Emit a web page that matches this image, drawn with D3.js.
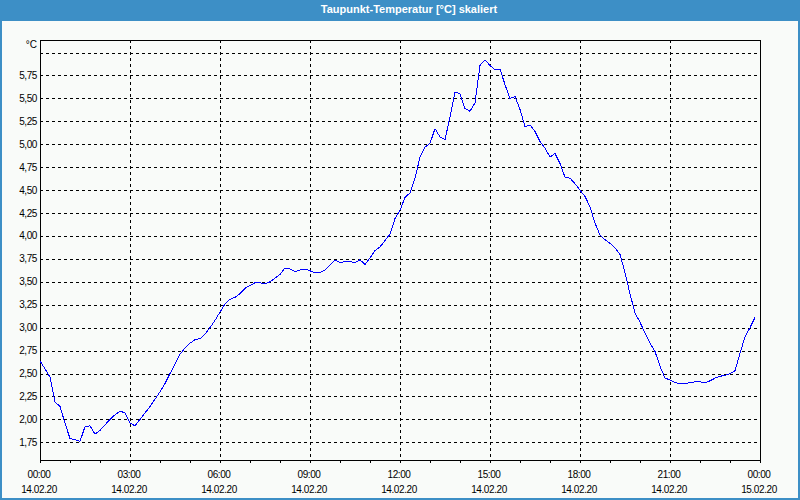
<!DOCTYPE html>
<html><head><meta charset="utf-8">
<script src="https://cdn.jsdelivr.net/npm/d3@7"></script>
<style>
html,body{margin:0;padding:0;background:#f9fbf9;}
svg{display:block;}
text{font-family:"Liberation Sans",Arial,sans-serif;}
</style></head>
<body>
<svg id="chart" width="800" height="500"></svg>
<script>
const title = "Taupunkt-Temperatur [°C] skaliert";
const unitLabel = "°C";
const times = ["00:00","00:10","00:20","00:30","00:40","00:50","01:00","01:10","01:20","01:30","01:40","01:50",
"02:00","02:10","02:20","02:30","02:40","02:50","03:00","03:10","03:20","03:30","03:40","03:50",
"04:00","04:10","04:20","04:30","04:40","04:50","05:00","05:10","05:20","05:30","05:40","05:50",
"06:00","06:10","06:20","06:30","06:40","06:50","07:00","07:10","07:20","07:30","07:40","07:50",
"08:00","08:10","08:20","08:30","08:40","08:50","09:00","09:10","09:20","09:30","09:40","09:50",
"10:00","10:10","10:20","10:30","10:40","10:50","11:00","11:10","11:20","11:30","11:40","11:50",
"12:00","12:10","12:20","12:30","12:40","12:50","13:00","13:10","13:20","13:30","13:40","13:50",
"14:00","14:10","14:20","14:30","14:40","14:50","15:00","15:10","15:20","15:30","15:40","15:50",
"16:00","16:10","16:20","16:30","16:40","16:50","17:00","17:10","17:20","17:30","17:40","17:50",
"18:00","18:10","18:20","18:30","18:40","18:50","19:00","19:10","19:20","19:30","19:40","19:50",
"20:00","20:10","20:20","20:30","20:40","20:50","21:00","21:10","21:20","21:30","21:40","21:50",
"22:00","22:10","22:20","22:30","22:40","22:50","23:00","23:10","23:20","23:30","23:40","23:50"];
const dewpoint = [2.64,2.55,2.46,2.19,2.14,1.96,1.79,1.78,1.76,1.92,1.93,1.84,
1.88,1.94,2.00,2.05,2.09,2.07,1.96,1.93,2.00,2.07,2.14,2.22,
2.30,2.39,2.50,2.60,2.71,2.78,2.83,2.87,2.88,2.93,3.00,3.08,
3.17,3.26,3.31,3.33,3.37,3.43,3.46,3.49,3.49,3.48,3.50,3.54,
3.58,3.65,3.64,3.61,3.63,3.64,3.62,3.60,3.60,3.63,3.68,3.74,
3.71,3.72,3.72,3.71,3.74,3.69,3.76,3.84,3.88,3.95,4.02,4.19,
4.28,4.42,4.47,4.63,4.86,4.97,5.01,5.17,5.08,5.05,5.30,5.57,
5.55,5.39,5.36,5.45,5.86,5.92,5.86,5.81,5.82,5.65,5.50,5.52,
5.38,5.19,5.21,5.14,5.03,4.96,4.86,4.90,4.79,4.64,4.63,4.57,
4.50,4.43,4.32,4.14,4.01,3.96,3.92,3.87,3.80,3.60,3.37,3.16,
3.06,2.94,2.83,2.74,2.58,2.45,2.43,2.40,2.39,2.39,2.40,2.41,
2.41,2.40,2.42,2.45,2.47,2.48,2.50,2.53,2.72,2.90,3.00,3.11];
const yTicks = [1.75,2.00,2.25,2.50,2.75,3.00,3.25,3.50,3.75,4.00,4.25,4.50,4.75,5.00,5.25,5.50,5.75];
const yGrid = [1.75,2.00,2.25,2.50,2.75,3.00,3.25,3.50,3.75,4.00,4.25,4.50,4.75,5.00,5.25,5.50,5.75,6.00];
const xTickHours = [0,3,6,9,12,15,18,21,24];
const xTimeLabels = ["00:00","03:00","06:00","09:00","12:00","15:00","18:00","21:00","00:00"];
const xDateLabels = ["14.02.20","14.02.20","14.02.20","14.02.20","14.02.20","14.02.20","14.02.20","14.02.20","15.02.20"];

const svg = d3.select("#chart");
const L = 40, R = 760, T = 40, B = 460;
const blue = "#3d8fc6";

// background, title bar and outer border
svg.append("rect").attr("x",0).attr("y",0).attr("width",800).attr("height",500).attr("fill","#f9fbf9");
svg.append("rect").attr("x",0).attr("y",0).attr("width",800).attr("height",21).attr("fill",blue);
svg.append("rect").attr("x",1).attr("y",1).attr("width",798).attr("height",498)
  .attr("fill","none").attr("stroke",blue).attr("stroke-width",2);
svg.append("text").attr("x",409).attr("y",13).attr("text-anchor","middle")
  .attr("fill","#ffffff").attr("font-size","11px").attr("font-weight","bold").text(title);

const toHours = t => { const [h,m] = t.split(":").map(Number); return h + m/60; };
const x = d3.scaleLinear().domain([0,24]).range([L,R]);
const y = d3.scaleLinear().domain([1.557,6.137]).range([B,T]);

// grid
const g = svg.append("g").attr("shape-rendering","crispEdges");
g.selectAll(".hg").data(yGrid).join("line")
  .attr("x1",L).attr("x2",R).attr("y1",d=>Math.round(y(d))+0.5).attr("y2",d=>Math.round(y(d))+0.5)
  .attr("stroke","#000").attr("stroke-dasharray","3,3");
g.selectAll(".vg").data(xTickHours.slice(1,-1)).join("line")
  .attr("x1",d=>Math.round(x(d))+0.5).attr("x2",d=>Math.round(x(d))+0.5).attr("y1",T).attr("y2",B)
  .attr("stroke","#000").attr("stroke-dasharray","3,3");

// x axis with hourly ticks
const xAxis = d3.axisBottom(x).tickValues(d3.range(0,25,1)).tickSize(3).tickFormat("");
const xa = svg.append("g").attr("transform",`translate(0,${B})`).call(xAxis);
xa.select(".domain").remove();
xa.selectAll("line").attr("stroke","#000").attr("shape-rendering","crispEdges");

// frame
svg.append("rect").attr("x",L+0.5).attr("y",T+0.5).attr("width",R-L).attr("height",B-T)
  .attr("fill","none").attr("stroke","#000").attr("shape-rendering","crispEdges");

// y labels
svg.selectAll(".yl").data(yTicks).join("text")
  .attr("x",37).attr("y",d=>y(d)+3.5).attr("text-anchor","end")
  .attr("font-size","10px").attr("letter-spacing","-0.4px").attr("fill","#000")
  .text(d=>d.toFixed(2).replace(".",","));
svg.append("text").attr("x",37).attr("y",48).attr("text-anchor","end")
  .attr("font-size","10px").attr("fill","#000").text(unitLabel);

// x labels
svg.selectAll(".xt").data(xTickHours).join("text")
  .attr("x",d=>x(d)-1).attr("y",478).attr("text-anchor","middle")
  .attr("font-size","10px").attr("letter-spacing","-0.4px").attr("fill","#000")
  .text((d,i)=>xTimeLabels[i]);
svg.selectAll(".xd").data(xTickHours).join("text")
  .attr("x",d=>x(d)-1).attr("y",493).attr("text-anchor","middle")
  .attr("font-size","10px").attr("letter-spacing","-0.4px").attr("fill","#000")
  .text((d,i)=>xDateLabels[i]);

// line
const pts = times.map((t,i)=>({h:toHours(t), v:dewpoint[i]}));
svg.append("path").datum(pts)
  .attr("d", d3.line().x(d=>x(d.h)).y(d=>y(d.v)))
  .attr("fill","none").attr("stroke","#0000ff").attr("stroke-width",1)
  .attr("shape-rendering","crispEdges");
</script>
</body></html>
